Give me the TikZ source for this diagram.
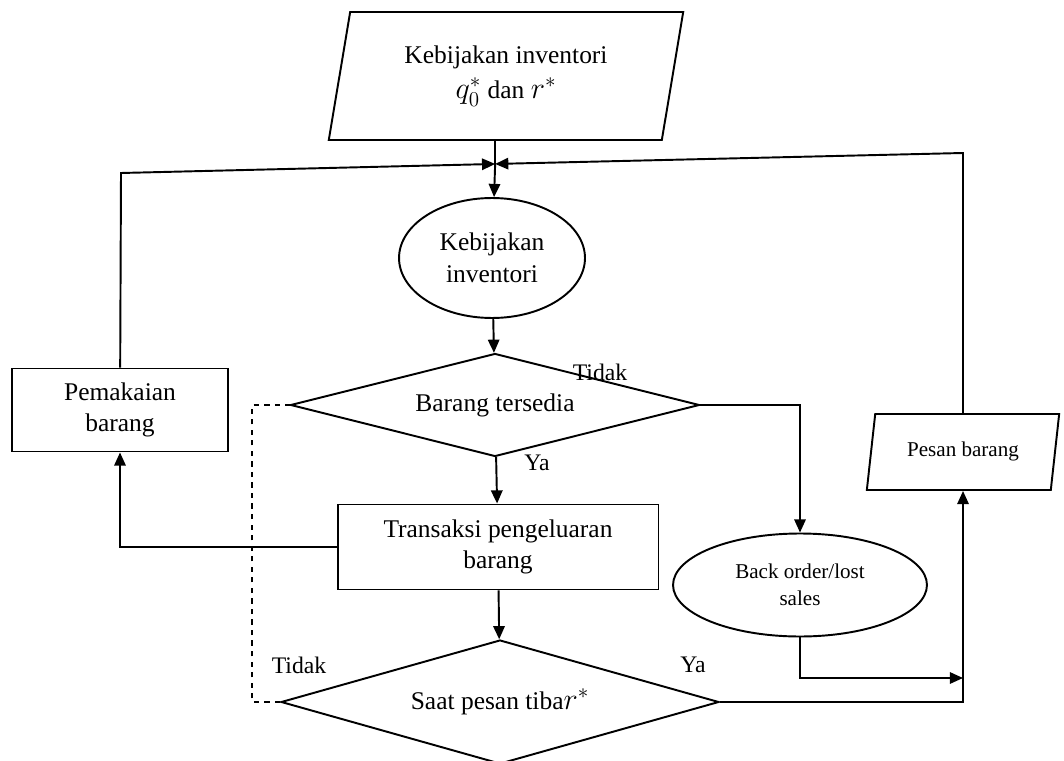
\documentclass[tikz,border=0pt]{standalone}
\usepackage{fontspec}
\setmainfont{Liberation Serif}
\usetikzlibrary{shapes.geometric,arrows.meta}

\newcommand{\hurufbesar}{\fontsize{14.5}{18}\selectfont}
\newcommand{\hurufkecil}{\fontsize{12}{15.4}\selectfont}
\newcommand{\hurufmat}{\fontsize{17}{20}\selectfont}

\tikzset{
	kotak/.style={draw, rectangle, align=center, inner sep=2pt, font=\hurufbesar},
	oval/.style={draw, ellipse, align=center, inner sep=0pt},
	belah/.style={draw, diamond, align=center, inner sep=0pt, font=\hurufbesar},
	jajar/.style={draw, trapezium, trapezium stretches=true, align=center, inner sep=0pt},
	ket/.style={font=\fontsize{13.5}{16}\selectfont, inner sep=0pt},
}

\begin{document}
\begin{tikzpicture}[x=0.02cm, y=-0.02cm, line width=1.1pt, >={Triangle[length=7.5pt,width=6.5pt]}]
	\useasboundingbox (0,0) rectangle (1064,760);
	
	\node[jajar, font=\hurufbesar, minimum width=7.1cm, minimum height=2.56cm,
		trapezium left angle=77, trapezium right angle=103] (kebijakan) at (506,76)
		{Kebijakan inventori\\[2pt] {\hurufmat$q_0^*$} dan {\hurufmat$r^*$}};
	\node[oval, font=\hurufbesar, minimum width=3.72cm, minimum height=2.4cm] (inv) at (492,258) {Kebijakan\\inventori};
	\node[belah, aspect=4, minimum width=8.18cm, minimum height=2.06cm] (tersedia) at (495,405) {Barang tersedia};
	\node[kotak, minimum width=6.42cm, minimum height=1.7cm] (transaksi) at (498,547) {Transaksi pengeluaran\\barang};
	\node[belah, aspect=3.5, minimum width=8.76cm, minimum height=2.48cm] (tiba) at (500,702) {Saat pesan tiba{\hurufmat$r^*$}};
	\node[kotak, minimum width=4.32cm, minimum height=1.66cm] (pemakaian) at (120,410) {Pemakaian\\barang};
	\node[oval, font=\hurufkecil, minimum width=5.08cm, minimum height=2.06cm] (backorder) at (800,585) {Back order/lost\\sales};
	\node[jajar, font=\hurufkecil, minimum width=3.86cm, minimum height=1.52cm,
		trapezium left angle=75, trapezium right angle=105] (pesan) at (963,452) {\raisebox{3pt}{Pesan barang}};
	
	\node[ket] (tidak1) at (600,372) {Tidak};
	\node[ket] (ya1) at (537,463) {Ya};
	\node[ket] (tidak2) at (299,665) {Tidak};
	\node[ket] (ya2) at (693,665) {Ya};
	
	% titik temu di atas elips
	\coordinate (temu) at ([yshift=-0.46cm]kebijakan.bottom side);
	\coordinate (kiri) at (121,173);
	\coordinate (kanan) at (963,153);
	\coordinate (garis) at (252,0);
	\coordinate (gabung) at (963,678);
	
	\draw (kebijakan.bottom side) -- (temu);
	\draw[->] (temu) -- (inv);
	\draw[->] (pemakaian) -- (kiri) -- (temu);
	\draw[->] (pesan) -- (kanan) -- (temu);
	\draw[->] (inv) -- (tersedia);
	\draw[->] (tersedia) -- (transaksi);
	\draw[->] (tersedia.east) -| (backorder);
	\draw[->] (transaksi.west) -| (pemakaian);
	\draw[->] (transaksi) -- (tiba);
	\draw[->] (tiba.east) -| (pesan);
	\draw[->] (backorder) |- (gabung);
	\draw[dashed] (tiba.west) -- (tiba.west -| garis) |- (tersedia.west);
\end{tikzpicture}
\end{document}
